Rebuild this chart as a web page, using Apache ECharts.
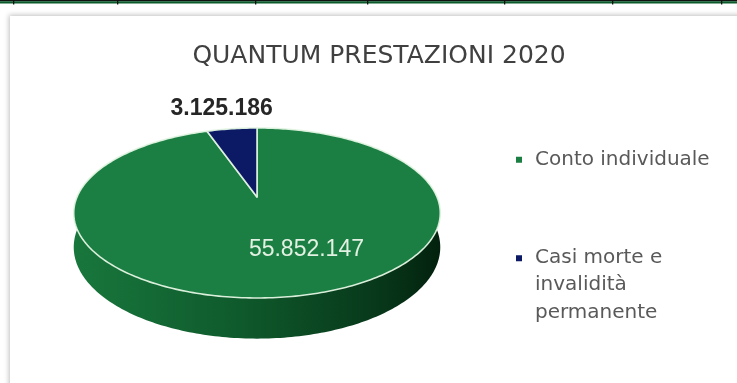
<!DOCTYPE html>
<html><head><meta charset="utf-8">
<script src="https://cdn.jsdelivr.net/npm/echarts@6/dist/echarts.min.js"></script>
<style>html,body{margin:0;padding:0;background:#fff}#chart{width:737px;height:383px}</style>
</head><body><div id="chart"></div>
<script>
// Categories and amounts
const categories = ['Conto individuale', 'Casi morte e invalidità permanente'];
const legendLabels = ['Conto individuale', 'Casi morte e\ninvalidità\npermanente'];
const values = [55852147, 3125186];
const chartTitle = 'QUANTUM PRESTAZIONI 2020';

// Styling (kept apart from the data)
const sliceColors = ['#1b7e42', '#0c1a66'];
const labelColors = ['#e2f1e2', '#262626'];
const labelWeights = ['normal', 'bold'];
const labelRadius = [0.5, 1.15];
const labelShift = [[33, 8], [-7, -12]];

const total = values.reduce((a, b) => a + b, 0);
const fmt = v => String(Math.round(v)).replace(/\B(?=(\d{3})+(?!\d))/g, '.');

// Tilted disc seen in perspective: angle measured clockwise from 12 o'clock
const CX = 257, CY = 197, RX = 180, RY = 82, PERSP = 0.188, DEPTH = 33;
function project(theta, r) {
  const u = r * Math.sin(theta), v = -r * Math.cos(theta);
  const s = 1 / (1 - v * PERSP);
  return [CX + RX * u * s, CY + RY * v * s, s];
}
function arc(a0, a1) {
  const n = Math.max(6, Math.ceil((a1 - a0) / (Math.PI / 180)));
  const pts = [];
  for (let j = 0; j <= n; j++) pts.push(project(a0 + (a1 - a0) * j / n, 1));
  return pts;
}

function makeRender(i) {
  return function (params, api) {
    const val = api.value(0);
    const before = values.slice(0, i).reduce((a, b) => a + b, 0);
    const a0 = before / total * Math.PI * 2;
    const a1 = (before + val) / total * Math.PI * 2;
    const children = [];

    // visible rim: front half of the disc
    const s0 = Math.max(a0, Math.PI / 2), s1 = Math.min(a1, Math.PI * 1.5);
    if (s1 > s0) {
      const topPts = arc(s0, s1);
      const pts = topPts.map(p => [p[0], p[1]]);
      for (let j = topPts.length - 1; j >= 0; j--) {
        const p = topPts[j];
        pts.push([p[0], p[1] + DEPTH * p[2]]);
      }
      children.push({
        type: 'polygon', shape: { points: pts },
        style: {
          fill: new echarts.graphic.LinearGradient(0, 0, 1, 0, [
            { offset: 0, color: i === 0 ? '#18773c' : '#0a1550' },
            { offset: 0.45, color: i === 0 ? '#0f5a2c' : '#08103c' },
            { offset: 0.85, color: i === 0 ? '#073619' : '#050a28' },
            { offset: 1, color: i === 0 ? '#03210e' : '#030618' }
          ])
        }
      });
    }

    // top face of the slice
    const apex = project(0, 0);
    const face = [[apex[0], apex[1]]].concat(arc(a0, a1).map(p => [p[0], p[1]]));
    children.push({
      type: 'polygon', shape: { points: face },
      style: { fill: api.visual('color'), stroke: 'rgba(226,244,226,0.95)', lineWidth: 1.6, lineJoin: 'round' }
    });

    // value label
    const mid = (a0 + a1) / 2;
    const lp = project(mid, labelRadius[i]);
    children.push({
      type: 'text',
      style: {
        text: fmt(val), x: lp[0] + labelShift[i][0], y: lp[1] + labelShift[i][1],
        fill: labelColors[i], align: 'center', verticalAlign: 'middle',
        font: labelWeights[i] + ' 23px "Liberation Sans", Arial, sans-serif'
      }
    });
    return { type: 'group', children: children };
  };
}

const legendText = { fontFamily: '"DejaVu Sans", sans-serif', fontSize: 20, color: '#595959', lineHeight: 27.5, padding: [0, 0, 0, 8] };
const legendBase = {
  orient: 'vertical', left: 516, padding: 0, selectedMode: false,
  itemStyle: { borderWidth: 0 }, textStyle: legendText,
  formatter: name => legendLabels[categories.indexOf(name)]
};

const chart = echarts.init(document.getElementById('chart'), null, { renderer: 'canvas' });
chart.setOption({
  backgroundColor: '#ffffff',
  animation: false,
  graphic: [
    { type: 'rect', shape: { x: 0, y: 0, width: 737, height: 1.2 }, style: { fill: '#111' }, z: 100 },
    { type: 'rect', shape: { x: 0, y: 1.2, width: 737, height: 2.3 }, style: { fill: '#0b5a2b' }, z: 100 },
    ...[13, 117, 255, 367, 504, 612, 721].map(x => ({
      type: 'rect', shape: { x: x, y: 0, width: 1.3, height: 4.5 }, style: { fill: '#111' }, z: 101
    })),
    { type: 'rect', shape: { x: 10, y: 16, width: 760, height: 400 },
      style: { fill: '#fff', shadowBlur: 5, shadowColor: 'rgba(0,0,0,0.25)', shadowOffsetX: -1, shadowOffsetY: -1 }, z: -10 }
  ],
  title: {
    text: chartTitle, left: 374, top: 39, textAlign: 'center',
    textStyle: { fontFamily: '"DejaVu Sans", sans-serif', fontSize: 25, fontWeight: 'normal', color: '#404040' }
  },
  legend: [
    Object.assign({}, legendBase, {
      top: 146, itemWidth: 6, itemHeight: 6, icon: 'rect',
      data: [categories[0]]
    }),
    Object.assign({}, legendBase, {
      top: 244, itemWidth: 6, itemHeight: 60,
      // square marker sits level with the first text line
      icon: 'path://M0,0L6,0L6,6L0,6Z M0,59.99L0.01,60',
      data: [categories[1]]
    })
  ],
  series: categories.map((name, i) => ({
    type: 'custom', name: name, coordinateSystem: 'none',
    itemStyle: { color: sliceColors[i] },
    renderItem: makeRender(i),
    data: [[values[i]]],
    z: 2
  }))
});
</script></body></html>
